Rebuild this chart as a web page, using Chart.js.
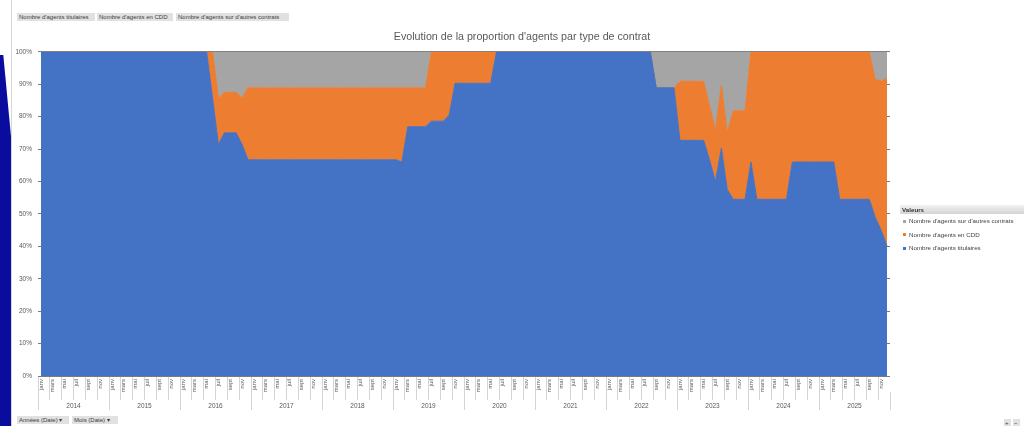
<!DOCTYPE html>
<html lang="fr">
<head>
<meta charset="utf-8">
<title>Evolution de la proportion d'agents par type de contrat</title>
<script src="https://cdn.jsdelivr.net/npm/chart.js@4.4.1/dist/chart.umd.min.js"></script>
<style>
  html, body { margin: 0; padding: 0; background: #fff; }
  body { width: 1024px; height: 426px; position: relative; overflow: hidden;
         font-family: "Liberation Sans", Arial, sans-serif; color: #404040; }
  #bande { position: absolute; left: 0; top: 55px; width: 11px; height: 371px; background: #0a0c9e;
           clip-path: polygon(0 0, 30% 0, 100% 22%, 100% 100%, 0 100%); }
  #cadre { position: absolute; left: 11px; top: 0; width: 1px; height: 426px; background: #d6d6d6; }
  #zone { position: absolute; left: 12px; top: 24px; width: 1020px; height: 388px; }
  .btn { position: absolute; height: 8px; line-height: 8px; font-size: 6px; background: #e1e1e1;
         color: #3a3a3a; padding: 0 2px; white-space: nowrap; box-sizing: border-box; z-index: 2; }
  #legende { position: absolute; left: 900px; top: 205px; width: 124px; font-size: 6.2px; color: #404040; z-index: 2; }
  #legende .tete { height: 9px; line-height: 9px; font-weight: bold; padding-left: 2px;
                   background: linear-gradient(#f2f2f2, #d4d4d4); color: #333; }
  #legende .item { height: 13.5px; line-height: 13.5px; padding-left: 3px; white-space: nowrap; }
  #legende .carre { display: inline-block; width: 3px; height: 3px; margin-right: 3px; vertical-align: middle; }
</style>
</head>
<body>
<div id="bande"></div>
<div id="cadre"></div>

<div class="btn" style="left:17px;top:13px;width:78px;">Nombre d'agents titulaires</div>
<div class="btn" style="left:97px;top:13px;width:76px;">Nombre d'agents en CDD</div>
<div class="btn" style="left:176px;top:13px;width:113px;">Nombre d'agents sur d'autres contrats</div>

<div id="zone"><canvas id="graphique" width="1020" height="388"></canvas></div>

<div id="legende">
  <div class="tete">Valeurs</div>
  <div class="item"><span class="carre" style="background:#A5A5A5"></span>Nombre d'agents sur d'autres contrats</div>
  <div class="item"><span class="carre" style="background:#ED7D31"></span>Nombre d'agents en CDD</div>
  <div class="item"><span class="carre" style="background:#4472C4"></span>Nombre d'agents titulaires</div>
</div>

<div class="btn" style="left:17px;top:416px;width:52px;">Années (Date) ▾</div>
<div class="btn" style="left:72px;top:416px;width:46px;">Mois (Date) ▾</div>
<div class="btn" style="left:1004px;top:419px;width:7px;padding:0 1px;">+</div>
<div class="btn" style="left:1013px;top:419px;width:7px;padding:0 1px;">−</div>

<script>
// --- données (en % du total, un point par mois, janv 2014 -> déc 2025) ---
const annees = ['2014', '2015', '2016', '2017', '2018', '2019', '2020', '2021', '2022', '2023', '2024', '2025'];
const nomsMois = ['janv', 'févr', 'mars', 'avr', 'mai', 'juin', 'juil', 'août', 'sept', 'oct', 'nov', 'déc'];

const titulaires = [
  100, 100, 100, 100, 100, 100, 100, 100, 100, 100, 100, 100,              // 2014
  100, 100, 100, 100, 100, 100, 100, 100, 100, 100, 100, 100,              // 2015
  100, 100, 100, 100, 100, 85.7, 71.4, 75, 75, 75, 71.4, 66.7,             // 2016
  66.7, 66.7, 66.7, 66.7, 66.7, 66.7, 66.7, 66.7, 66.7, 66.7, 66.7, 66.7,  // 2017
  66.7, 66.7, 66.7, 66.7, 66.7, 66.7, 66.7, 66.7, 66.7, 66.7, 66.7, 66.7,  // 2018
  66.7, 66, 76.9, 76.9, 76.9, 76.9, 78.6, 78.6, 78.6, 80.5, 90.3, 90.3,    // 2019
  90.3, 90.3, 90.3, 90.3, 90.3, 100, 100, 100, 100, 100, 100, 100,         // 2020
  100, 100, 100, 100, 100, 100, 100, 100, 100, 100, 100, 100,              // 2021
  100, 100, 100, 100, 100, 100, 100, 100, 88.9, 88.9, 88.9, 88.9,          // 2022
  72.7, 72.7, 72.7, 72.7, 72.7, 66.7, 60, 70.3, 57.5, 54.5, 54.5, 54.5,    // 2023
  66, 54.5, 54.5, 54.5, 54.5, 54.5, 54.5, 66, 66, 66, 66, 66,              // 2024
  66, 66, 66, 54.5, 54.5, 54.5, 54.5, 54.5, 54.5, 49, 45, 40               // 2025
];

const cdd = [
  0, 0, 0, 0, 0, 0, 0, 0, 0, 0, 0, 0,
  0, 0, 0, 0, 0, 0, 0, 0, 0, 0, 0, 0,
  0, 0, 0, 0, 0, 14.3, 14.3, 12.5, 12.5, 12.5, 14.3, 22.2,
  22.2, 22.2, 22.2, 22.2, 22.2, 22.2, 22.2, 22.2, 22.2, 22.2, 22.2, 22.2,
  22.2, 22.2, 22.2, 22.2, 22.2, 22.2, 22.2, 22.2, 22.2, 22.2, 22.2, 22.2,
  22.2, 22.9, 12, 12, 12, 12, 21.4, 21.4, 21.4, 19.5, 9.7, 9.7,
  9.7, 9.7, 9.7, 9.7, 9.7, 0, 0, 0, 0, 0, 0, 0,
  0, 0, 0, 0, 0, 0, 0, 0, 0, 0, 0, 0,
  0, 0, 0, 0, 0, 0, 0, 0, 0, 0, 0, 0,
  18.2, 18.2, 18.2, 18.2, 18.2, 16.6, 15.9, 19.4, 17.5, 27.3, 27.3, 27.3,
  34, 45.5, 45.5, 45.5, 45.5, 45.5, 45.5, 34, 34, 34, 34, 34,
  34, 34, 34, 45.5, 45.5, 45.5, 45.5, 45.5, 45.5, 42.5, 46, 51.8
];

const autres = [
  0, 0, 0, 0, 0, 0, 0, 0, 0, 0, 0, 0,
  0, 0, 0, 0, 0, 0, 0, 0, 0, 0, 0, 0,
  0, 0, 0, 0, 0, 0, 14.3, 12.5, 12.5, 12.5, 14.3, 11.1,
  11.1, 11.1, 11.1, 11.1, 11.1, 11.1, 11.1, 11.1, 11.1, 11.1, 11.1, 11.1,
  11.1, 11.1, 11.1, 11.1, 11.1, 11.1, 11.1, 11.1, 11.1, 11.1, 11.1, 11.1,
  11.1, 11.1, 11.1, 11.1, 11.1, 11.1, 0, 0, 0, 0, 0, 0,
  0, 0, 0, 0, 0, 0, 0, 0, 0, 0, 0, 0,
  0, 0, 0, 0, 0, 0, 0, 0, 0, 0, 0, 0,
  0, 0, 0, 0, 0, 0, 0, 0, 11.1, 11.1, 11.1, 11.1,
  9.1, 9.1, 9.1, 9.1, 9.1, 16.7, 24.1, 10.3, 25, 18.2, 18.2, 18.2,
  0, 0, 0, 0, 0, 0, 0, 0, 0, 0, 0, 0,
  0, 0, 0, 0, 0, 0, 0, 0, 0, 8.5, 9, 8.2
];

const couleurs = { titulaires: '#4472C4', cdd: '#ED7D31', autres: '#A5A5A5' };
const police = '"Liberation Sans", Arial, sans-serif';

// une étiquette par mois (le graphique n'en affiche qu'une sur deux)
const labelsMois = [];
annees.forEach(() => nomsMois.forEach(m => labelsMois.push(m)));

const ctx = document.getElementById('graphique').getContext('2d');

new Chart(ctx, {
  type: 'line',
  data: {
    labels: labelsMois,
    datasets: [
      { label: "Nombre d'agents titulaires", data: titulaires, fill: 'origin',
        backgroundColor: couleurs.titulaires, borderColor: couleurs.titulaires },
      { label: "Nombre d'agents en CDD", data: cdd, fill: '-1',
        backgroundColor: couleurs.cdd, borderColor: couleurs.cdd },
      { label: "Nombre d'agents sur d'autres contrats", data: autres, fill: '-1',
        backgroundColor: couleurs.autres, borderColor: couleurs.autres }
    ]
  },
  options: {
    responsive: false,
    animation: false,
    elements: { point: { radius: 0 }, line: { borderWidth: 1, tension: 0 } },
    layout: { padding: { left: 0, right: 0, top: 0, bottom: 2 } },
    plugins: {
      legend: { display: false },
      tooltip: { enabled: false },
      title: {
        display: true,
        text: "Evolution de la proportion d'agents par type de contrat",
        color: '#595959',
        font: { family: police, size: 10.7, weight: 'normal' },
        padding: { top: 7, bottom: 8 }
      }
    },
    scales: {
      x: {
        type: 'category',
        offset: true,
        weight: 0,
        border: { display: false },
        grid: {
          offset: true,
          drawOnChartArea: false,
          tickLength: 24,
          tickColor: c => (c.index % 2 === 0 ? '#d4d4d4' : 'rgba(0,0,0,0)')
        },
        ticks: {
          autoSkip: false,
          minRotation: 90,
          maxRotation: 90,
          padding: -21,
          color: '#595959',
          font: { family: police, size: 6 },
          callback: (v, i) => (i % 2 === 0 ? labelsMois[i] : '')
        },
        afterFit: s => { s.height = 16; }
      },
      annee: {
        type: 'category',
        axis: 'x',
        position: 'bottom',
        labels: annees,
        offset: true,
        weight: 1,
        border: { display: false },
        grid: { offset: true, drawOnChartArea: false, tickLength: 18, tickColor: '#d4d4d4' },
        ticks: { autoSkip: false, maxRotation: 0, padding: -8, color: '#595959',
                 font: { family: police, size: 6.5 } },
        afterFit: s => { s.height = 18; }
      },
      y: {
        stacked: true,
        min: 0,
        max: 100,
        border: { display: false },
        grid: { color: '#7a7a7a', drawTicks: false },
        ticks: { stepSize: 10, padding: 6, color: '#595959',
                 font: { family: police, size: 6.5 }, callback: v => v + '%' },
        afterFit: s => { s.width = 26; }
      },
      // axe vide à droite : réserve la place de la légende
      marge: {
        type: 'linear',
        axis: 'y',
        position: 'right',
        border: { display: false },
        grid: { display: false },
        ticks: { display: false },
        afterFit: s => { s.width = 142; }
      }
    }
  }
});
</script>
</body>
</html>
